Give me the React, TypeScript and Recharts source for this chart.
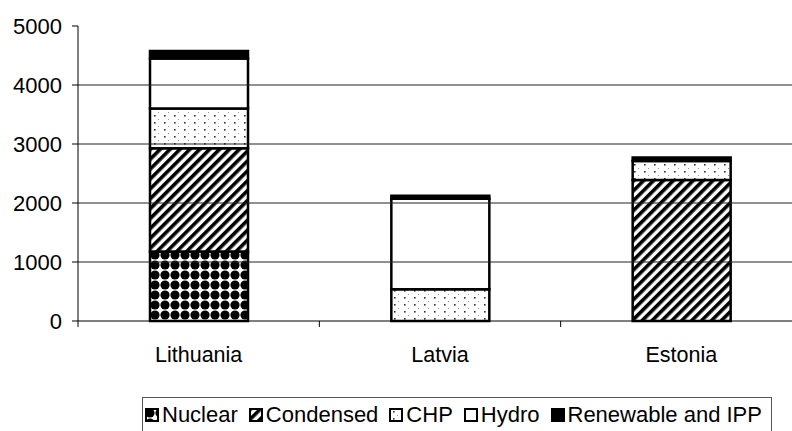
import React from 'react';
import { BarChart, Bar, XAxis, YAxis, ReferenceLine } from 'recharts';

const categories = ['Lithuania', 'Latvia', 'Estonia'];
const nuclear = [1180, 0, 0];
const condensed = [1750, 0, 2390];
const chp = [670, 540, 320];
const hydro = [850, 1530, 0];
const renewable = [125, 55, 60];
const yTicks = [0, 1000, 2000, 3000, 4000, 5000];
const gridValues = [1000, 2000, 3000, 4000];

const seriesKeys = ['Nuclear', 'Condensed', 'CHP', 'Hydro', 'Renewable and IPP'];
const seriesFills = ['url(#patNuclear)', 'url(#patCondensed)', 'url(#patChp)', '#ffffff', '#000000'];

const data = categories.map((name, i) => ({
  name,
  Nuclear: nuclear[i],
  Condensed: condensed[i],
  CHP: chp[i],
  Hydro: hydro[i],
  'Renewable and IPP': renewable[i],
}));

const FONT = '"Liberation Sans", Arial, sans-serif';

const XTick = (props: any) => {
  const { x, y, payload } = props;
  const off = payload && typeof payload.offset === 'number' ? payload.offset : 0;
  return (
    <g>
      <line x1={x - off} x2={x - off} y1={y} y2={y + 6} stroke="#000" strokeWidth={1} />
      <text x={x} y={y + 41} textAnchor="middle" fontSize={21.5} fontFamily={FONT} fill="#000">
        {payload.value}
      </text>
    </g>
  );
};

const Patterns = () => (
  <svg width={0} height={0} style={{ position: 'absolute' }}>
    <defs>
      <pattern id="patNuclear" patternUnits="userSpaceOnUse" width={10} height={10}>
        <rect width={10} height={10} fill="#fff" />
        <circle cx={5} cy={5} r={4.6} fill="#000" />
      </pattern>
      <pattern id="patCondensed" patternUnits="userSpaceOnUse" width={7} height={7} patternTransform="rotate(45)">
        <rect width={7} height={7} fill="#fff" />
        <rect x={0} y={0} width={3.6} height={7} fill="#000" />
      </pattern>
      <pattern id="patChp" patternUnits="userSpaceOnUse" width={10} height={7}>
        <rect width={10} height={7} fill="#fff" />
        <rect x={4} y={3} width={1.6} height={1.6} fill="#333" />
        <rect x={8} y={0} width={1} height={1} fill="#999" />
      </pattern>
    </defs>
  </svg>
);

const LegendBox = () => (
  <div
    style={{
      position: 'absolute',
      left: 142,
      top: 397,
      width: 630,
      height: 40,
      border: '1px solid #555',
      boxSizing: 'border-box',
      display: 'flex',
      alignItems: 'flex-start',
      paddingLeft: 2,
      paddingTop: 5,
      fontFamily: FONT,
      fontSize: 22,
      lineHeight: '24px',
      color: '#000',
      whiteSpace: 'nowrap',
    }}
  >
    {seriesKeys.map((k, i) => (
      <div key={k} style={{ display: 'flex', alignItems: 'center', marginRight: 11 }}>
        <svg width={14} height={14} style={{ marginRight: 3 }}>
          <rect x={1} y={1} width={12} height={12} fill={seriesFills[i]} stroke="#000" strokeWidth={2} />
        </svg>
        <span>{k}</span>
      </div>
    ))}
  </div>
);

export default function App() {
  return (
    <div style={{ position: 'absolute', left: 0, top: 0, width: 792, height: 431, overflow: 'hidden', background: '#fff' }}>
      <Patterns />
      <BarChart
        width={810}
        height={431}
        data={data}
        margin={{ top: 26, right: 8, bottom: 70, left: 0 }}
        barSize={98}
      >
        <XAxis
          dataKey="name"
          height={40}
          axisLine={{ stroke: '#000', strokeWidth: 1 }}
          tickLine={false}
          tickSize={0}
          tickMargin={0}
          tick={<XTick />}
          interval={0}
        />
        <YAxis
          width={78}
          domain={[0, 5000]}
          ticks={yTicks}
          interval={0}
          axisLine={{ stroke: '#000', strokeWidth: 1 }}
          tickLine={{ stroke: '#000', strokeWidth: 1 }}
          tickSize={6}
          tickMargin={10}
          tick={{ fill: '#000', fontSize: 22, fontFamily: FONT }}
        />
        {gridValues.map((v) => (
          <ReferenceLine key={v} y={v} stroke="#222" strokeWidth={1} />
        ))}
        {seriesKeys.map((k, i) => (
          <Bar
            key={k}
            dataKey={k}
            stackId="a"
            fill={seriesFills[i]}
            stroke="#000"
            strokeWidth={2.5}
            isAnimationActive={false}
          />
        ))}
      </BarChart>
      <LegendBox />
    </div>
  );
}
